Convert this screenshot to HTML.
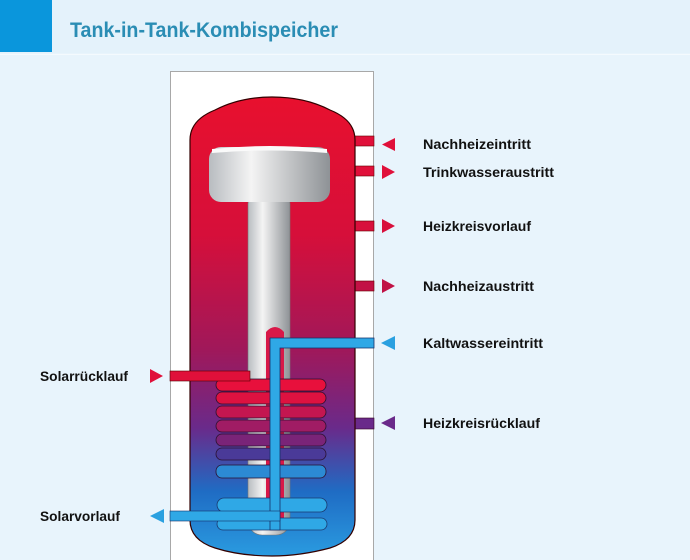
<!DOCTYPE html>
<html><head><meta charset="utf-8"><style>
html,body{margin:0;padding:0;background:#e8f4fc;}
svg{display:block}
text{font-family:"Liberation Sans",sans-serif;font-weight:bold;}
</style></head><body>
<svg width="690" height="560" viewBox="0 0 690 560" xmlns="http://www.w3.org/2000/svg">
<defs>
<linearGradient id="tank" x1="0" y1="0" x2="0" y2="1">
<stop offset="0" stop-color="#e8102e"/>
<stop offset="0.3" stop-color="#d60f3a"/>
<stop offset="0.55" stop-color="#a0185a"/>
<stop offset="0.72" stop-color="#6a2a8a"/>
<stop offset="0.86" stop-color="#1f6cc4"/>
<stop offset="1" stop-color="#2a9be0"/>
</linearGradient>
<linearGradient id="rod" x1="0" y1="0" x2="1" y2="0">
<stop offset="0" stop-color="#b8bcc0"/>
<stop offset="0.35" stop-color="#f4f4f4"/>
<stop offset="1" stop-color="#8e9296"/>
</linearGradient>
</defs>
<rect x="0" y="0" width="690" height="53" fill="#e4f2fb"/>
<rect x="0" y="54" width="690" height="1" fill="#f4fafe"/>
<rect x="0" y="0" width="52" height="52" fill="#0a96dc"/>
<text x="70" y="37" font-size="21" fill="#2a8db4" textLength="268" lengthAdjust="spacingAndGlyphs">Tank-in-Tank-Kombispeicher</text>
<rect x="170.5" y="71.5" width="203" height="490" fill="#fff" stroke="#a8a8a8"/>
<rect x="350" y="136" width="24" height="10" fill="#e0103a" stroke="#600" stroke-width="0.6"/>
<rect x="326" y="166" width="48" height="10" fill="#e0103a" stroke="#600" stroke-width="0.6"/>
<rect x="350" y="221" width="24" height="10" fill="#d8103c" stroke="#600" stroke-width="0.6"/>
<rect x="350" y="281" width="24" height="10" fill="#c21245" stroke="#600" stroke-width="0.6"/>
<rect x="350" y="418" width="24" height="11" fill="#6a2a8a" stroke="#302" stroke-width="0.6"/>
<path d="M190,140 Q190,120 215,110 Q240,97 272,97 Q305,97 330,110 Q355,120 355,140 L355,520 Q355,540 330,548 Q300,556 272,556 Q240,556 215,548 Q190,540 190,520 Z" fill="url(#tank)" stroke="#300" stroke-width="1.2"/>
<rect x="248" y="190" width="42" height="345" rx="14" fill="url(#rod)" stroke="#777" stroke-width="0.6"/>
<rect x="209" y="147" width="121" height="55" rx="12" fill="url(#rod)"/>
<path d="M212,149 Q270,143 327,149 L327,153 Q270,148 212,153 Z" fill="#fafafa"/>
<path d="M266,332 Q275,322 284,332 L284,530 L266,530 Z" fill="#d81848"/>
<rect x="217" y="498" width="110" height="14" rx="7" fill="#2fa8e6" stroke="#1a3a70" stroke-width="0.8"/>
<rect x="217" y="518" width="110" height="12" rx="6" fill="#2fa8e6" stroke="#1a3a70" stroke-width="0.8"/>
<g stroke="#2a1030" stroke-width="0.8">
<rect x="216" y="379" width="110" height="12" rx="6" fill="#e8103c"/>
<rect x="216" y="392" width="110" height="12" rx="6" fill="#de1240"/>
<rect x="216" y="406" width="110" height="12" rx="6" fill="#c41650"/>
<rect x="216" y="420" width="110" height="12" rx="6" fill="#a01c64"/>
<rect x="216" y="434" width="110" height="12" rx="6" fill="#7a2478"/>
<rect x="216" y="448" width="110" height="12" rx="6" fill="#4a3a98"/>
<rect x="216" y="465" width="110" height="13" rx="6" fill="#2c8ad4"/>
</g>
<path d="M374,338 L270,338 L270,530 L280,530 L280,348 L374,348 Z" fill="#2fa8e6" stroke="#14306a" stroke-width="0.8"/>
<rect x="170" y="371" width="80" height="10" fill="#e0103a" stroke="#500" stroke-width="0.6"/>
<rect x="170" y="511" width="110" height="10" fill="#2fa8e6" stroke="#14306a" stroke-width="0.6"/>
<polygon points="395,138 395,151 382,144.5" fill="#e0103a"/>
<polygon points="382,165 382,179 395,172" fill="#e0103a"/>
<polygon points="382,219 382,233 395,226" fill="#d8103c"/>
<polygon points="382,279 382,293 395,286" fill="#c01245"/>
<polygon points="395,336 395,350 381,343" fill="#2aa0e0"/>
<polygon points="395,416 395,430 381,423" fill="#6a2a8a"/>
<polygon points="150,369 150,383 163,376" fill="#e0103a"/>
<polygon points="164,509 164,523 150,516" fill="#2aa0e0"/>
<g font-size="14" fill="#111">
<text x="423" y="149" textLength="108" lengthAdjust="spacingAndGlyphs">Nachheizeintritt</text>
<text x="423" y="177" textLength="131" lengthAdjust="spacingAndGlyphs">Trinkwasseraustritt</text>
<text x="423" y="231" textLength="108" lengthAdjust="spacingAndGlyphs">Heizkreisvorlauf</text>
<text x="423" y="291" textLength="111" lengthAdjust="spacingAndGlyphs">Nachheizaustritt</text>
<text x="423" y="348" textLength="120" lengthAdjust="spacingAndGlyphs">Kaltwassereintritt</text>
<text x="423" y="428" textLength="117" lengthAdjust="spacingAndGlyphs">Heizkreisrücklauf</text>
<text x="40" y="381" textLength="88" lengthAdjust="spacingAndGlyphs">Solarrücklauf</text>
<text x="40" y="521" textLength="80" lengthAdjust="spacingAndGlyphs">Solarvorlauf</text>
</g>
</svg>
</body></html>
